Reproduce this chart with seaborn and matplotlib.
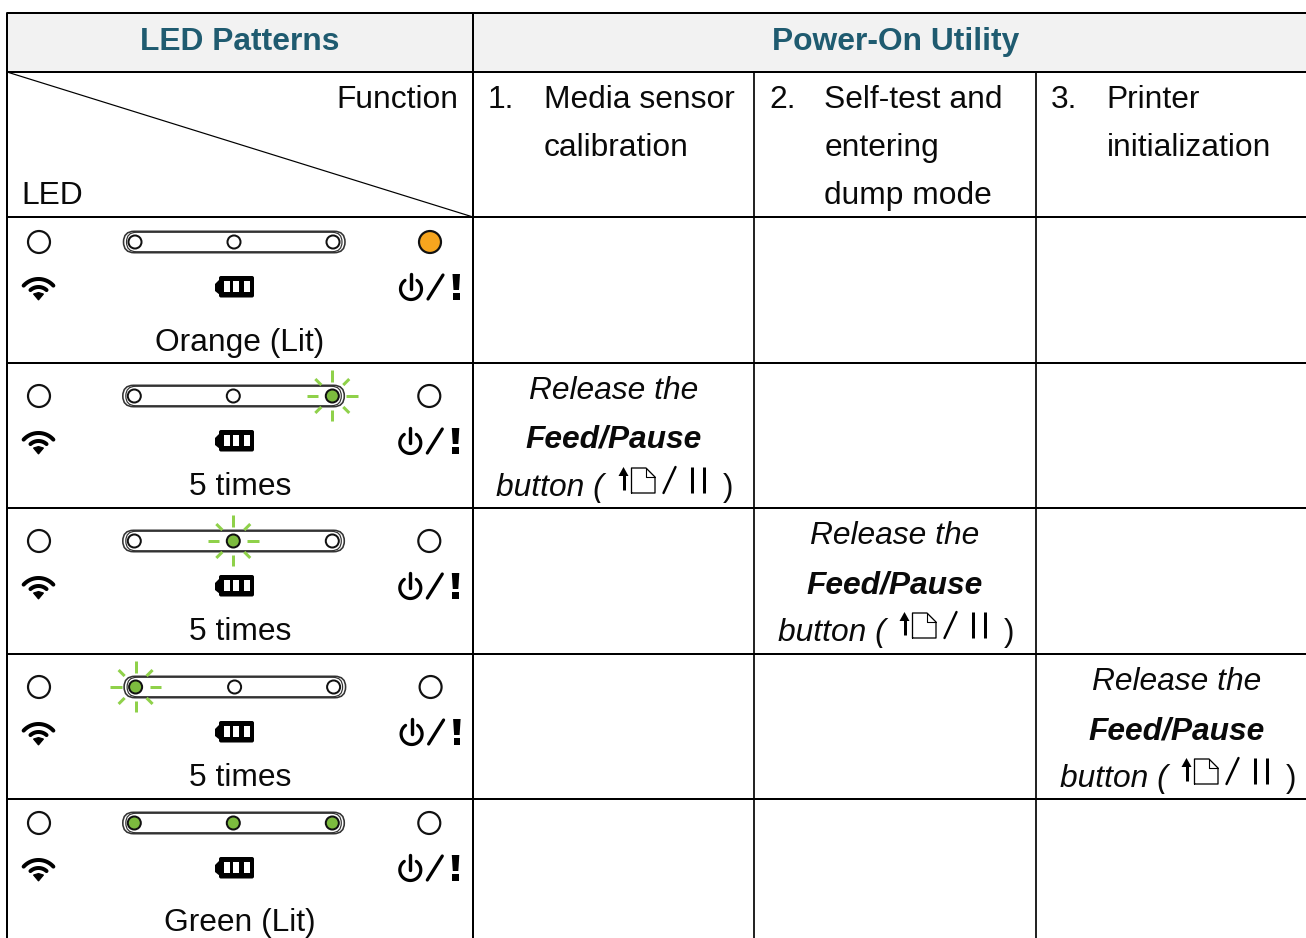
import numpy as np
import pandas as pd
import matplotlib
matplotlib.use("Agg")
import matplotlib.pyplot as plt
from matplotlib.patches import FancyBboxPatch, Polygon, Rectangle
import seaborn as sns

sns.set_theme(style="white")
plt.rcParams['font.family'] = ['Liberation Sans', 'DejaVu Sans']

# ---- data ----
header_left = "LED Patterns"
header_right = "Power-On Utility"
corner_function = "Function"
corner_led = "LED"
step_numbers = ["1.", "2.", "3."]
step_lines = [["Media sensor", "calibration"],
              ["Self-test and", "entering", "dump mode"],
              ["Printer", "initialization"]]
row_labels = ["Orange (Lit)", "5 times", "5 times", "5 times", "Green (Lit)"]
wifi_state = ["off", "off", "off", "off", "off"]
left_state = ["off", "off", "off", "blink", "green"]
mid_state = ["off", "off", "blink", "off", "green"]
right_state = ["off", "blink", "off", "off", "green"]
power_state = ["orange", "off", "off", "off", "off"]
release_col = [None, 0, 1, 2, None]
release_lines = ["Release the", "Feed/Pause", "button ("]

# ---- geometry ----
W, H = 1306, 938
col_x = [7, 473, 754, 1036]
row_y = [13, 72, 217, 363, 508, 654, 799]
led_y = [242, 396, 541, 687, 823]
icon_y = [287, 441, 586, 732, 868]
label_base = [351, 495, 640, 786, 931]
release_base = [None, 399, 544, 690, None]
shift = [0, -0.7, -0.7, 0.6, -0.7]

INK = "#000000"
LEAD = "#1F5B70"
GREEN = "#7CBB3E"
RAY = "#8FD14A"
ORANGE = "#F7A51E"
FS = 22.9

fig = plt.figure(figsize=(W / 100, H / 100), dpi=100)
ax = fig.add_axes([0, 0, 1, 1])
ax.set_xlim(0, W)
ax.set_ylim(H, 0)
ax.axis("off")
px = 0.72

# header fill
ax.add_patch(Rectangle((col_x[0], row_y[0]), W - col_x[0], row_y[1] - row_y[0],
                       fc="#F2F2F2", ec="none", zorder=0))

# grid
for y in row_y:
    ax.plot([col_x[0], W], [y, y], color=INK, lw=2 * px, zorder=1, solid_capstyle="butt")
ax.plot([col_x[0]] * 2, [row_y[0], H], color=INK, lw=2 * px, zorder=1)
ax.plot([col_x[1]] * 2, [row_y[0], H], color=INK, lw=2 * px, zorder=1)
for x in col_x[2:]:
    ax.plot([x, x], [row_y[1], H], color=INK, lw=1.7 * px, zorder=1)
ax.plot([col_x[0], col_x[1]], [row_y[1], row_y[2]], color=INK, lw=1.2 * px, zorder=1)


def txt(x, y, s, ha="left", **kw):
    kw.setdefault("color", "#0A0A0A")
    ax.text(x, y, s, ha=ha, va="baseline", fontsize=FS, **kw)


txt(240, 50, header_left, ha="center", color=LEAD, fontweight="bold")
txt(896, 50, header_right, ha="center", color=LEAD, fontweight="bold")
txt(458, 108, corner_function, ha="right")
txt(21, 204, corner_led)

baselines = [108, 156, 204]
for i, x0 in enumerate(col_x[1:]):
    txt(x0 + 15, 108, step_numbers[i])
    for j, s in enumerate(step_lines[i]):
        txt(x0 + 70.5, baselines[j], s)

# ---- LEDs through seaborn ----
records = []
for r in range(5):
    s = shift[r]
    records.append(dict(x=39, y=led_y[r], state=wifi_state[r], kind="big"))
    records.append(dict(x=430 + s, y=led_y[r], state=power_state[r], kind="big"))
    records.append(dict(x=135 + s, y=led_y[r], state=left_state[r], kind="small"))
    records.append(dict(x=234 + s, y=led_y[r], state=mid_state[r], kind="small"))
    records.append(dict(x=333 + s, y=led_y[r], state=right_state[r], kind="small"))
leds = pd.DataFrame(records)
palette = {"off": "#FFFFFF", "orange": ORANGE, "green": GREEN, "blink": GREEN}


def stadium(x0, x1, y0, y1, lw, color):
    h = y1 - y0
    ax.add_patch(FancyBboxPatch((x0 + h / 2, y0 + h / 2), x1 - x0 - h, 0,
                                boxstyle=f"round,pad={h / 2},rounding_size={h / 2}",
                                fc="white", ec=color, lw=lw * px, zorder=2, mutation_aspect=1))


for r in range(5):
    s = shift[r]
    y = led_y[r]
    stadium(123.5 + s, 345 + s, y - 10.7, y + 10.7, 1.6, "#333333")
    stadium(126.5 + s, 342 + s, y - 9.7, y + 9.7, 1.2, "#333333")

for r in range(5):
    st = [left_state[r], mid_state[r], right_state[r]]
    for state, x0 in zip(st, [135, 234, 333]):
        if state == "blink":
            cx, cy = x0 + shift[r], led_y[r]
            for a in np.arange(0, 360, 45):
                ca, sa = np.cos(np.radians(a)), np.sin(np.radians(a))
                r0, r1 = (14, 25.5) if a % 90 == 0 else (15.5, 24)
                ax.plot([cx + r0 * ca, cx + r1 * ca], [cy + r0 * sa, cy + r1 * sa],
                        color=RAY, lw=3 * px, zorder=3, solid_capstyle="butt")

for kind, size, lw in [("big", 250, 2.2 * px), ("small", 88, 2 * px)]:
    sub = leds[leds.kind == kind]
    sns.scatterplot(data=sub, x="x", y="y", hue="state", palette=palette, s=size,
                    edgecolor="#111111", linewidth=lw, legend=False, ax=ax, zorder=4,
                    clip_on=True)
ax.set_xlim(0, W)
ax.set_ylim(H, 0)
ax.axis("off")


# ---- icons ----
def wifi(cx, y):
    base = y + 12
    for rad, half in [(20, 48), (12, 42)]:
        t = np.radians(np.linspace(-90 - half, -90 + half, 30))
        ax.plot(cx + rad * np.cos(t), base + rad * np.sin(t), color=INK, lw=4 * px,
                solid_capstyle="round", zorder=3)
    ax.add_patch(Polygon([(cx - 5, y + 7), (cx, y + 5.5), (cx + 5, y + 7), (cx, y + 13)], fc=INK, ec=INK,
                         lw=0.8, zorder=3))


def battery(cx, y):
    ax.add_patch(FancyBboxPatch((cx - 16, y - 11), 35, 21.5, boxstyle="round,pad=0,rounding_size=2",
                                fc=INK, ec="none", zorder=3))
    ax.add_patch(Polygon([(cx - 15, y - 8), (cx - 20, y - 3), (cx - 20, y + 4), (cx - 15, y + 8)],
                         fc=INK, ec="none", zorder=3))
    for dx in [-11, -1.7, 9]:
        ax.add_patch(Rectangle((cx + dx, y - 5.5), 6, 11, fc="white", ec="none", zorder=3.5))


def power(cx, y):
    t = np.radians(np.linspace(-55, 235, 50))
    ax.plot(cx + 10.5 * np.cos(t), y + 2 + 10.5 * np.sin(t), color=INK, lw=3.2 * px, zorder=3,
            solid_capstyle="round")
    ax.plot([cx, cx], [y - 13, y + 2], color=INK, lw=3.4 * px, zorder=3, solid_capstyle="round")
    ax.plot([cx + 17, cx + 32], [y + 12, y - 12], color=INK, lw=3.2 * px, zorder=3,
            solid_capstyle="round")
    ax.add_patch(Polygon([(cx + 41.5, y - 13), (cx + 49, y - 13), (cx + 48, y + 3), (cx + 42.5, y + 3)],
                         fc=INK, ec="none", zorder=3))
    ax.add_patch(Rectangle((cx + 42, y + 6), 6.5, 7, fc=INK, ec="none", zorder=3))


for r in range(5):
    wifi(38.5, icon_y[r])
    battery(235, icon_y[r])
    power(411 + shift[r], icon_y[r])
    txt(240, label_base[r], row_labels[r], ha="center")


def page_button(x0, base):
    # x0: left of "button (" text, base: its baseline
    ar = x0 + 127
    ax.plot([ar, ar], [base - 6, base - 22], color=INK, lw=3 * px, zorder=3, solid_capstyle="butt")
    ax.add_patch(Polygon([(ar - 5, base - 20), (ar + 5, base - 20), (ar, base - 29)], fc=INK, ec="none", zorder=3))
    px0, px1 = x0 + 135, x0 + 158.5
    top, bot = base - 28, base - 3
    ax.plot([px0, px0, px1 - 9, px1, px1, px0], [bot, top, top, top + 9, bot, bot], color=INK,
            lw=1.3 * px, zorder=3)
    ax.plot([px1 - 9, px1 - 9, px1], [top, top + 9, top + 9], color=INK, lw=1.1 * px, zorder=3)
    ax.plot([x0 + 167, x0 + 179], [base - 3, base - 29], color=INK, lw=2.4 * px, zorder=3)
    for dx in (195.5, 207.5):
        ax.plot([x0 + dx, x0 + dx], [base - 29, base - 3], color=INK, lw=3 * px, zorder=3,
                solid_capstyle="butt")
    txt(x0 + 226, base, ")")


for r in range(5):
    c = release_col[r]
    if c is None:
        continue
    left, right = col_x[c + 1], (col_x + [1318])[c + 2]
    xc = (left + right) / 2
    b = release_base[r]
    txt(xc, b, release_lines[0], ha="center", style="italic")
    txt(xc, b + 49, release_lines[1], ha="center", style="italic", fontweight="bold")
    txt(left + 23.5, b + 97, release_lines[2], style="italic")
    page_button(left + 23.5, b + 97)

fig.savefig("out.png", dpi=100, facecolor="white")
